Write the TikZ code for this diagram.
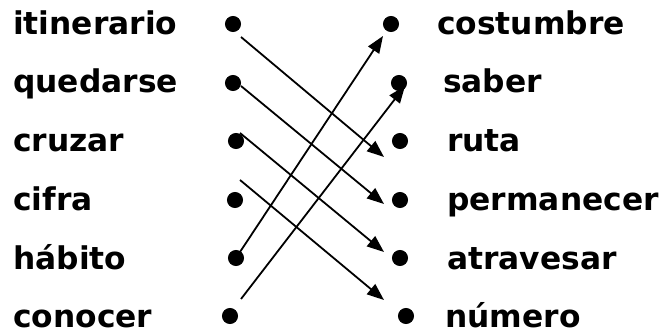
\documentclass[tikz,border=0pt]{standalone}
\usepackage{fontspec}
\setmainfont{DejaVu Sans}
\usetikzlibrary{arrows.meta}

\begin{document}
\begin{tikzpicture}[x=1pt, y=-1pt,
    word/.style={anchor=base west, inner sep=0pt, font=\fontsize{31.3}{36}\selectfont\bfseries},
    dot/.style={circle, fill, draw, line width=1pt, inner sep=0pt, minimum size=15pt},
    arr/.style={-{Triangle[length=17pt, width=13pt]}, line width=1.8pt}
  ]
  \useasboundingbox (0,0) rectangle (665,336);

  % Left words
  \node[word] (itinerario) at (13,35) {itinerario};
  \node[word] (quedarse) at (13,93) {quedarse};
  \node[word] (cruzar) at (13,152) {cruzar};
  \node[word] (cifra) at (13,211) {cifra};
  \node[word] (habito) at (13,270) {hábito};
  \node[word] (conocer) at (13,328) {conocer};

  \node[dot] (l1) at (233,24) {};
  \node[dot] (l2) at (233,83) {};
  \node[dot] (l3) at (236,141) {};
  \node[dot] (l4) at (235,200) {};
  \node[dot] (l5) at (236,258) {};
  \node[dot] (l6) at (230,316) {};

  % Right words
  \node[dot] (r1) at (391,24) {};
  \node[dot] (r2) at (399,83) {};
  \node[dot] (r3) at (400,141) {};
  \node[dot] (r4) at (400,200) {};
  \node[dot] (r5) at (400,258) {};
  \node[dot] (r6) at (406,316) {};

  \node[word] (costumbre) at (437,35) {costumbre};
  \node[word] (saber) at (443,93) {saber};
  \node[word] (ruta) at (447,152) {ruta};
  \node[word] (permanecer) at (447,211) {permanecer};
  \node[word] (atravesar) at (447,270) {atravesar};
  \node[word] (numero) at (445,328) {número};

  % Arrows
  \coordinate (s1) at (241,37);
  \coordinate (s2) at (241,86);
  \coordinate (s3) at (240,133);
  \coordinate (s4) at (240,180);
  \coordinate (s5) at (240,252);
  \coordinate (s6) at (241,299);
  \coordinate (e1) at (384,157);
  \coordinate (e2) at (384,204);
  \coordinate (e3) at (384,252);
  \coordinate (e4) at (384,300);
  \coordinate (e5) at (383,36);
  \coordinate (e6) at (405,86);

  \draw[arr] (s1) -- (e1);
  \draw[arr] (s2) -- (e2);
  \draw[arr] (s3) -- (e3);
  \draw[arr] (s4) -- (e4);
  \draw[arr] (s5) -- (e5);
  \draw[arr] (s6) -- (e6);
\end{tikzpicture}
\end{document}
